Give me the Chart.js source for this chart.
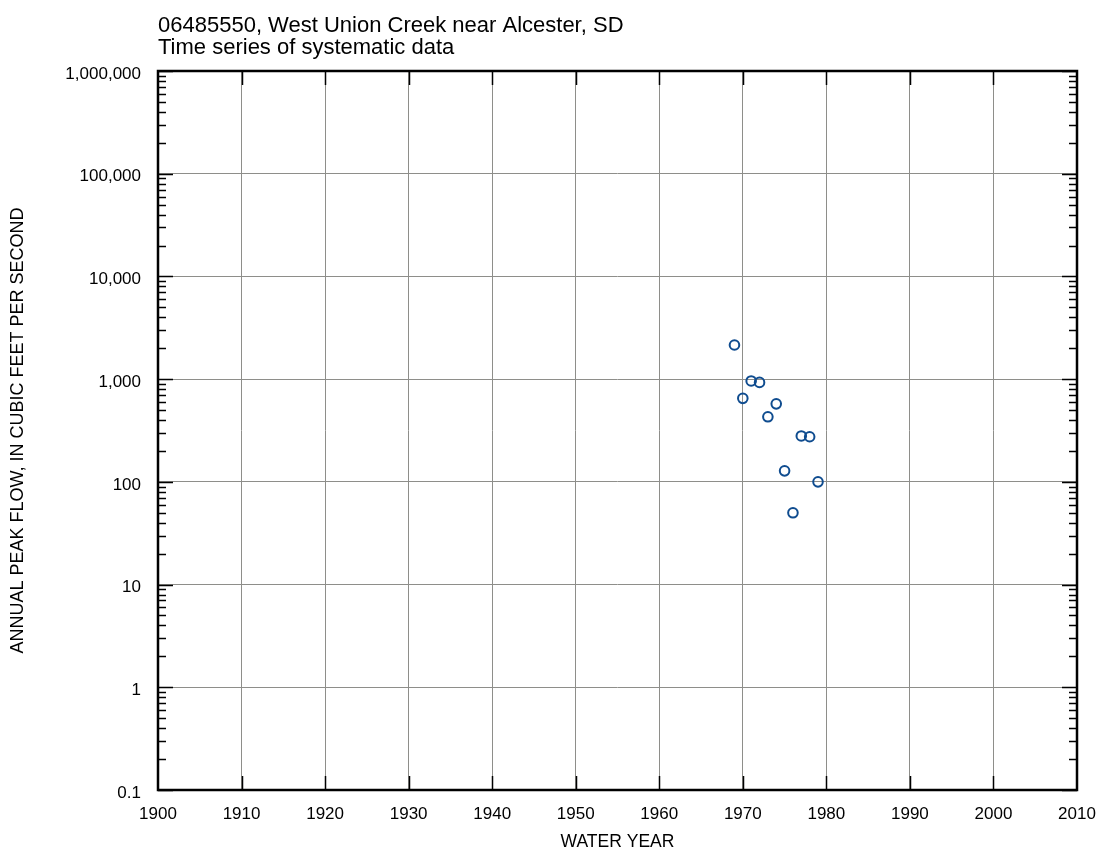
<!DOCTYPE html>
<html>
<head>
<meta charset="utf-8">
<script src="https://cdn.jsdelivr.net/npm/chart.js@4.4.1/dist/chart.umd.min.js"></script>
<style>
  body { margin: 0; background: #fff; }
  #wrap { width: 1101px; height: 856px; }
</style>
</head>
<body>
<div id="wrap"><canvas id="peak-chart"></canvas></div>
<script>
var FONT = "'Liberation Sans Narrow', 'Arial Narrow', 'Liberation Sans', sans-serif";

var titleLines = ["06485550, West Union Creek near Alcester, SD", "Time series of systematic data"];
var waterYears = [1969, 1970, 1971, 1972, 1973, 1974, 1975, 1976, 1977, 1978, 1979];
var peakFlows = [2150, 650, 960, 930, 430, 575, 128, 50, 280, 275, 100];
var yTicks = [0.1, 1, 10, 100, 1000, 10000, 100000, 1000000];
var xMin = 1900, xMax = 2010, xStep = 10;

// frame + inward tick marks like the USGS plots
var framePlugin = {
  id: "frame",
  afterDraw: function(chart) {
    var ctx = chart.ctx;
    var a = chart.chartArea;
    var xs = chart.scales.x, ys = chart.scales.y;
    ctx.save();
    ctx.strokeStyle = "#000";
    ctx.lineWidth = 1.5;
    ctx.beginPath();
    // x major ticks top and bottom
    for (var yr = xMin + xStep; yr < xMax; yr += xStep) {
      var px = Math.round(xs.getPixelForValue(yr)) + 0.5;
      ctx.moveTo(px, a.top); ctx.lineTo(px, a.top + 14);
      ctx.moveTo(px, a.bottom); ctx.lineTo(px, a.bottom - 14);
    }
    // y major + minor ticks left and right
    for (var i = 0; i < yTicks.length; i++) {
      var v = yTicks[i];
      var py = Math.round(ys.getPixelForValue(v)) + 0.5;
      ctx.moveTo(a.left, py); ctx.lineTo(a.left + 15, py);
      ctx.moveTo(a.right, py); ctx.lineTo(a.right - 15, py);
      if (i < yTicks.length - 1) {
        for (var m = 2; m <= 9; m++) {
          var my = Math.round(ys.getPixelForValue(v * m)) + 0.5;
          ctx.moveTo(a.left, my); ctx.lineTo(a.left + 8, my);
          ctx.moveTo(a.right, my); ctx.lineTo(a.right - 8, my);
        }
      }
    }
    ctx.stroke();
    ctx.lineWidth = 2.5;
    ctx.strokeRect(a.left, a.top, a.right - a.left, a.bottom - a.top);
    // chart heading
    ctx.fillStyle = "#000";
    ctx.font = "22px " + FONT;
    ctx.textAlign = "left";
    ctx.textBaseline = "alphabetic";
    ctx.fillText(titleLines[0], a.left, 32);
    ctx.fillText(titleLines[1], a.left, 54);
    ctx.restore();
  }
};

var ctx = document.getElementById("peak-chart").getContext("2d");
var peakChart = new Chart(ctx, {
  type: "scatter",
  data: {
    datasets: [{
      label: "Annual peak flow",
      data: waterYears.map(function(yr, i) { return { x: yr, y: peakFlows[i] }; }),
      pointRadius: 4.8,
      pointHoverRadius: 4.8,
      pointBorderWidth: 2,
      pointBorderColor: "#0f4c8f",
      pointBackgroundColor: "rgba(255,255,255,0)"
    }]
  },
  options: {
    responsive: true,
    maintainAspectRatio: false,
    animation: false,
    events: [],
    layout: { padding: { top: 71, right: 24, left: 0, bottom: 0 } },
    scales: {
      x: {
        type: "linear",
        min: xMin,
        max: xMax,
        afterFit: function(s) { s.height = 66; s.paddingLeft = 0; s.paddingRight = 0; },
        grid: { color: "#8e8e8a", lineWidth: 1, drawTicks: false },
        border: { display: false },
        ticks: {
          stepSize: xStep,
          padding: 14,
          color: "#000",
          font: { family: FONT, size: 17 },
          callback: function(v) { return String(v); }
        },
        title: {
          display: true,
          text: "WATER YEAR",
          color: "#000",
          font: { family: FONT, size: 17.5 },
          padding: { top: 0, bottom: 3 }
        }
      },
      y: {
        type: "logarithmic",
        min: 0.1,
        max: 1000000,
        afterFit: function(s) { s.width = 158; s.paddingTop = 0; s.paddingBottom = 0; },
        afterBuildTicks: function(s) {
          s.ticks = yTicks.map(function(v) { return { value: v }; });
        },
        grid: { color: "#8e8e8a", lineWidth: 1, drawTicks: false },
        border: { display: false },
        ticks: {
          padding: 17,
          labelOffset: 3,
          color: "#000",
          font: { family: FONT, size: 17 },
          callback: function(v) { return Number(v).toLocaleString("en-US"); }
        },
        title: {
          display: true,
          text: "ANNUAL PEAK FLOW, IN CUBIC FEET PER SECOND",
          color: "#000",
          font: { family: FONT, size: 18 },
          padding: { top: 7, bottom: 0 }
        }
      }
    },
    plugins: {
      legend: { display: false },
      tooltip: { enabled: false }
    }
  },
  plugins: [framePlugin]
});
</script>
</body>
</html>
